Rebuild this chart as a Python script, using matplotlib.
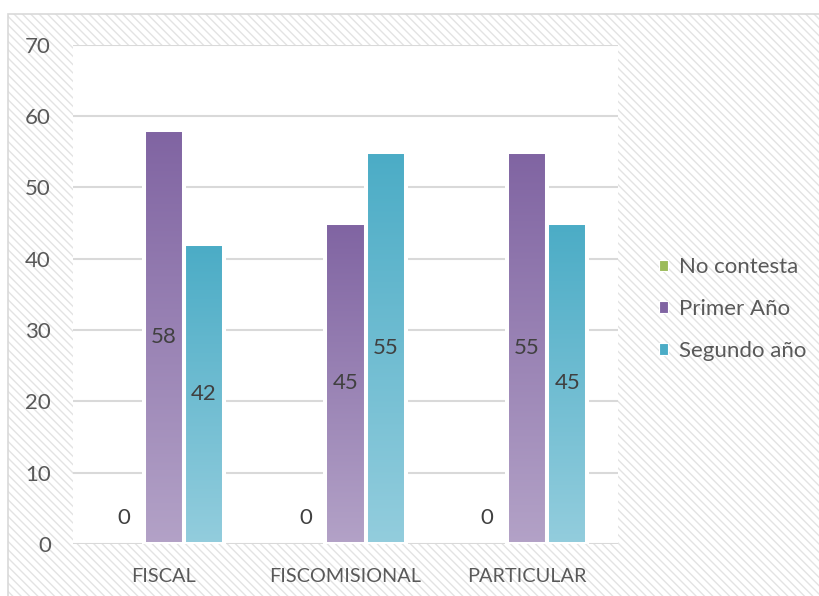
import matplotlib

matplotlib.use("Agg")

import matplotlib.pyplot as plt
import numpy as np
from matplotlib.colors import LinearSegmentedColormap
from matplotlib.patches import Patch, Rectangle

categories = ["FISCAL", "FISCOMISIONAL", "PARTICULAR"]
series_names = ["No contesta", "Primer Año", "Segundo año"]
no_contesta = [0, 0, 0]
primer_anio = [58, 45, 55]
segundo_anio = [42, 55, 45]
y_ticks = [0, 10, 20, 30, 40, 50, 60, 70]

# (top colour, bottom colour) for the gradient fill, plus legend swatch
series_colors = [
    ("#9BBB59", "#C3D69B", "#9BBB59"),
    ("#8064A2", "#B3A2C7", "#8064A2"),
    ("#4BACC6", "#93CDDD", "#4BACC6"),
]

plt.rcParams["font.family"] = ["Lato", "DejaVu Sans"]
text_color = "#595959"
fs = 16

W, H = 820, 596
fig = plt.figure(figsize=(W / 100, H / 100), dpi=100)
fig.patch.set_facecolor("white")

# hatched chart-area background with a thin border on left/top
bg = Rectangle((8 / W, -0.1), 1.2, (H - 14) / H + 0.1, transform=fig.transFigure,
               facecolor="white", edgecolor="#E3E3E3", linewidth=0,
               hatch="\\\\\\\\", zorder=-10)
fig.patches.append(bg)
border = Rectangle((8 / W, -0.1), 1.2, (H - 14) / H + 0.1, transform=fig.transFigure,
                   facecolor="none", edgecolor="#D9D9D9", linewidth=1.2, zorder=-9)
fig.patches.append(border)

ax = fig.add_axes([73 / W, 1 - 544 / H, (618 - 73) / W, (544 - 44.5) / H])
ax.set_facecolor("white")

step = 0.221
grad = np.linspace(0, 1, 256).reshape(-1, 1)
series = [no_contesta, primer_anio, segundo_anio]

for j, values in enumerate(series):
    top_c, bot_c, _ = series_colors[j]
    cmap = LinearSegmentedColormap.from_list(f"g{j}", [bot_c, top_c])
    for i, v in enumerate(values):
        xc = i + (j - 1) * step
        x0, x1 = xc - step / 2, xc + step / 2
        if v > 0:
            ax.imshow(grad, extent=[x0, x1, 0, v], origin="lower", cmap=cmap,
                      aspect="auto", zorder=2, interpolation="bilinear")
            ax.add_patch(Rectangle((x0, 0), step, v, facecolor="none",
                                   edgecolor="white", linewidth=2.9, zorder=3))
        ax.annotate(f"{v:.0f}", (xc, v / 2), xytext=(0, 0 if v else 19),
                    textcoords="offset points", ha="center", va="center",
                    fontsize=fs, color="#404040", zorder=4)

ax.set_xlim(-0.5, 2.5)
ax.set_ylim(0, 70)
ax.set_yticks(y_ticks)
ax.set_xticks(range(len(categories)))
ax.set_xticklabels(categories)
ax.yaxis.grid(True, color="#D9D9D9", linewidth=1.5, zorder=0.5)
ax.set_axisbelow(True)
for s in ax.spines.values():
    s.set_visible(False)
ax.tick_params(axis="both", length=0, labelcolor=text_color)
ax.tick_params(axis="y", pad=16, labelsize=fs)
ax.tick_params(axis="x", pad=17, labelsize=14.3)

handles = [Patch(facecolor=c[2], edgecolor="white", linewidth=0.8) for c in series_colors]
fig.legend(handles, series_names, loc="center left", bbox_to_anchor=(659 / W, 1 - 309 / H),
           frameon=False, fontsize=fs, labelcolor=text_color, handlelength=0.42,
           handleheight=0.42, handletextpad=0.5, labelspacing=0.98, borderpad=0,
           borderaxespad=0)

fig.savefig("out.png", dpi=100)
